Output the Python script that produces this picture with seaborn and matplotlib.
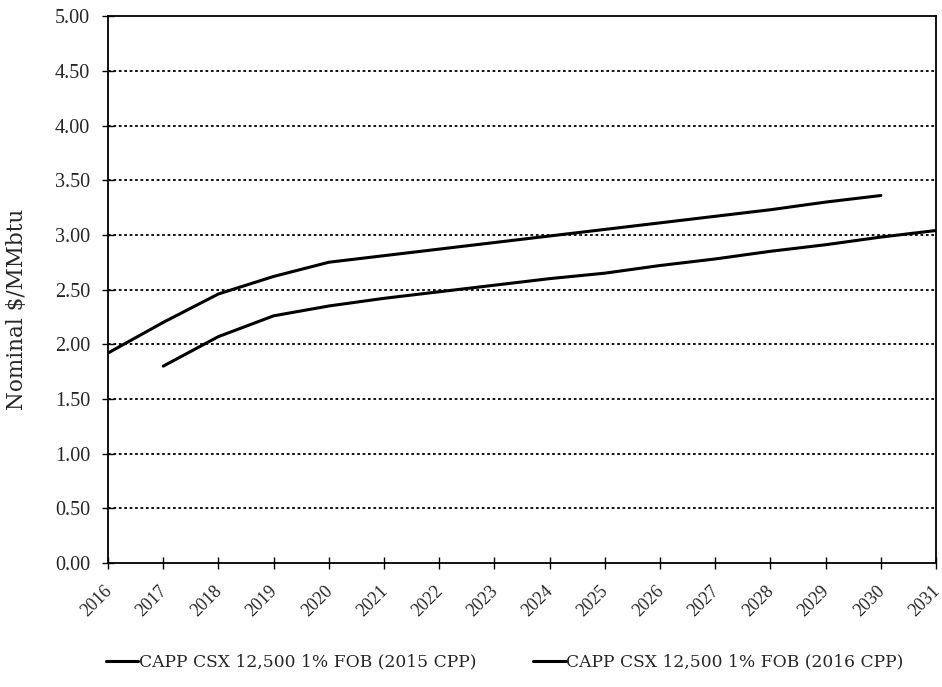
import pandas as pd
import matplotlib.pyplot as plt
import matplotlib.transforms as mtransforms
import seaborn as sns

# --- dane ---
YEARS_2015 = list(range(2016, 2031))
PRICE_2015 = [1.92, 2.20, 2.46, 2.62, 2.75, 2.81, 2.87, 2.93, 2.99, 3.05,
              3.11, 3.17, 3.23, 3.30, 3.36]
YEARS_2016 = list(range(2017, 2032))
PRICE_2016 = [1.80, 2.07, 2.26, 2.35, 2.42, 2.48, 2.54, 2.60, 2.65, 2.72,
              2.78, 2.85, 2.91, 2.98, 3.04]
LABEL_2015 = "CAPP CSX 12,500 1% FOB (2015 CPP)"
LABEL_2016 = "CAPP CSX 12,500 1% FOB (2016 CPP)"
X_TICKS = list(range(2016, 2032))
Y_TICKS = [0, 0.5, 1.0, 1.5, 2.0, 2.5, 3.0, 3.5, 4.0, 4.5, 5.0]

sns.set_theme(style="white")
plt.rcParams['font.family'] = ['Liberation Serif', 'DejaVu Serif']

df = pd.concat([
    pd.DataFrame({"Year": YEARS_2015, "Price": PRICE_2015, "Series": LABEL_2015}),
    pd.DataFrame({"Year": YEARS_2016, "Price": PRICE_2016, "Series": LABEL_2016}),
])

fig = plt.figure(figsize=(9.42, 6.87), dpi=100)
ax = fig.add_axes([0.1147, 0.1805, 0.879, 0.796])

sns.lineplot(data=df, x="Year", y="Price", hue="Series",
             palette=["black", "black"], linewidth=2.2, ax=ax)

ax.set_xlim(2016, 2031)
ax.set_ylim(0, 5)
ax.set_xticks(X_TICKS)
ax.set_xticklabels([str(y) for y in X_TICKS], rotation=45,
                   ha="right", rotation_mode="anchor", fontsize=13)
ax.set_yticks(Y_TICKS)
ax.set_yticklabels([f"{v:.2f}" for v in Y_TICKS], fontsize=14.5)
ax.tick_params(axis="both", direction="inout", length=8, width=1,
               color="black", bottom=True, left=True)
ax.tick_params(axis="x", pad=10)
ax.tick_params(axis="y", pad=9)

# lekkie przesuniecie etykiet osi X w lewo, zeby 2031 sie miescilo
shift = mtransforms.ScaledTranslation(-5 / 100, 0, fig.dpi_scale_trans)
for lbl in ax.get_xticklabels():
    lbl.set_transform(lbl.get_transform() + shift)

# kropkowane linie siatki
for y in Y_TICKS[1:-1]:
    ax.axhline(y, color="black", linestyle=(0, (1.5, 1.5)), linewidth=1.3, zorder=0)

for s in ax.spines.values():
    s.set_color("black")
    s.set_linewidth(1.3)

ax.set_xlabel("")
ax.set_ylabel("Nominal $/MMbtu", fontsize=15.5, family="DejaVu Serif")
ax.yaxis.set_label_coords(-0.0966, 0.464)

handles, labels = ax.get_legend_handles_labels()
ax.legend_.remove()
fig.legend(handles, labels, loc="center", bbox_to_anchor=(0.536, 0.036),
           ncol=2, frameon=False, handlelength=1.9, handletextpad=0.05,
           columnspacing=3.3, prop={"family": "DejaVu Serif", "size": 12.3})

plt.savefig("out.png", dpi=100)
plt.close()
